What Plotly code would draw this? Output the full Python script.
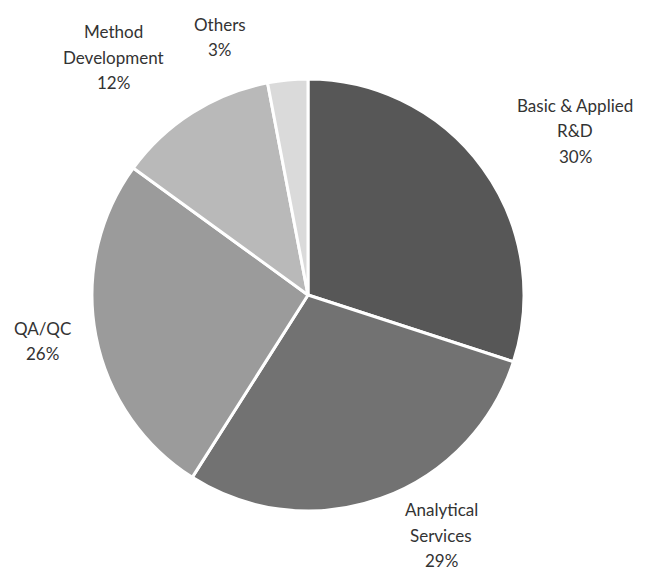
import math
import plotly.graph_objects as go

# Share of work by application area
categories = ["Basic & Applied R&D", "Analytical Services", "QA/QC", "Method Development", "Others"]
shares = [30, 29, 26, 12, 3]
label_lines = [["Basic & Applied", "R&D"], ["Analytical", "Services"], ["QA/QC"],
               ["Method", "Development"], ["Others"]]

slice_colors = ["#575757", "#727272", "#9b9b9b", "#b9b9b9", "#dadada"]

W, H = 650, 572
cx, cy, r = 308, 295, 216

fig = go.Figure(go.Pie(
    labels=categories,
    values=shares,
    sort=False,
    direction="clockwise",
    rotation=0,
    marker=dict(colors=slice_colors, line=dict(color="white", width=3)),
    textinfo="none",
    hoverinfo="label+percent",
    domain=dict(x=[(cx - r) / W, (cx + r) / W], y=[1 - (cy + r) / H, 1 - (cy - r) / H]),
    showlegend=False,
))

# Label block centres (pixels) for each slice
label_centres = [(575, 131), (441, 535), (42, 341), (113, 57), (220, 37)]
line_gap = 25.5

annotations = []
for lines, pct, (lx, ly) in zip(label_lines, shares, label_centres):
    all_lines = lines + [f"{pct}%"]
    n = len(all_lines)
    for i, txt in enumerate(all_lines):
        y_px = ly + (i - (n - 1) / 2) * line_gap
        annotations.append(dict(
            x=lx / W, y=1 - y_px / H, xref="paper", yref="paper",
            text=txt, showarrow=False, xanchor="center", yanchor="middle",
            font=dict(family="Lato", size=17, color="#333333"),
        ))

fig.update_layout(
    width=W, height=H,
    margin=dict(l=0, r=0, t=0, b=0),
    paper_bgcolor="white", plot_bgcolor="white",
    annotations=annotations,
)

fig.write_html("out.html")
